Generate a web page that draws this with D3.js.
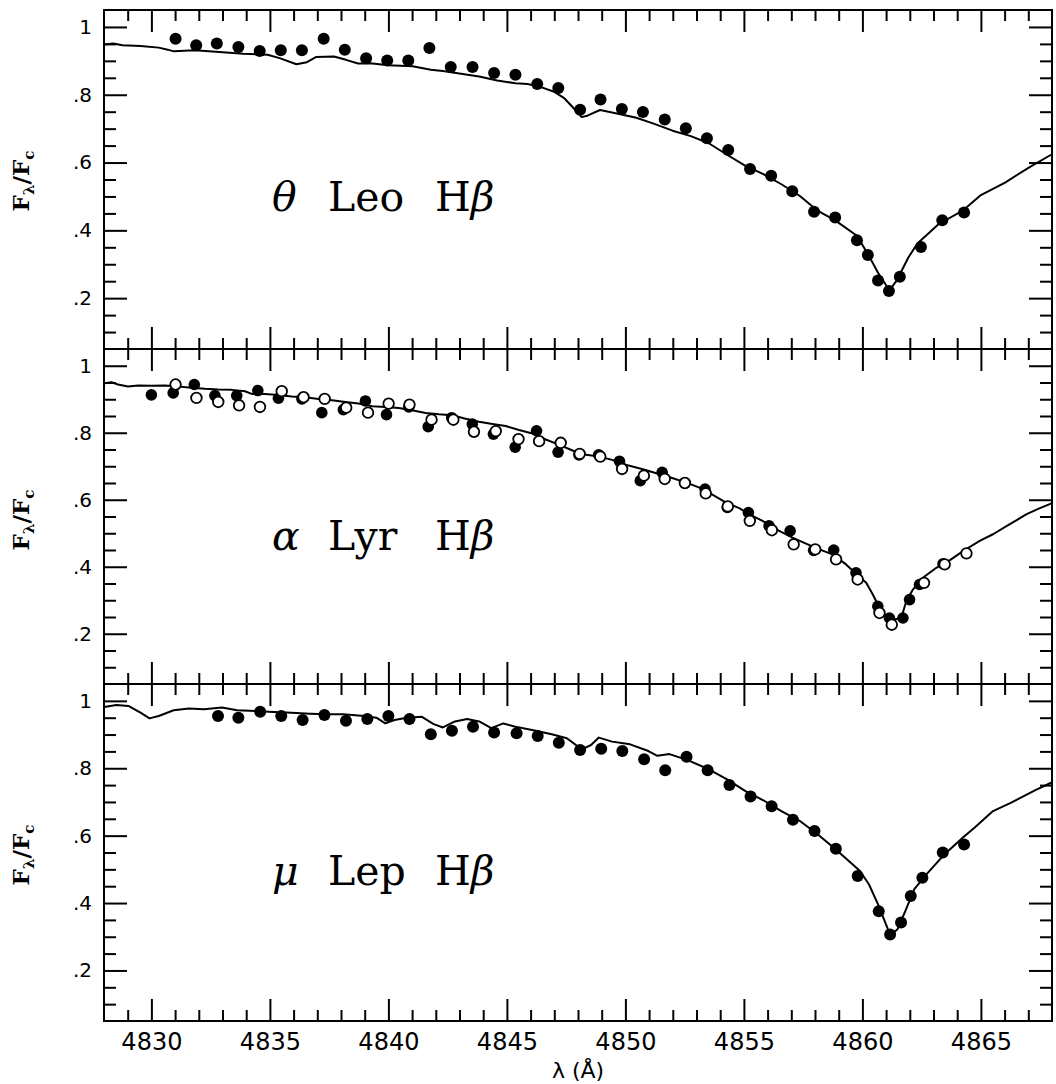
<!DOCTYPE html>
<html>
<head>
<meta charset="utf-8">
<script src="https://cdn.jsdelivr.net/npm/d3@7"></script>
<style>
  body { margin: 0; background: #fff; }
</style>
</head>
<body>
<svg id="chart" width="1056" height="1084"></svg>
<script>

// theta Leo : observed points and model curve [wavelength, F/Fc]
const leoObs = [
  [4831.02,0.965],[4831.89,0.946],[4832.76,0.951],[4833.67,0.941],[4834.57,0.929],
  [4835.46,0.931],[4836.35,0.931],[4837.27,0.965],[4838.16,0.933],[4839.06,0.908],
  [4839.95,0.901],[4840.84,0.901],[4841.73,0.938],[4842.63,0.882],[4843.55,0.882],
  [4844.46,0.864],[4845.36,0.859],[4846.28,0.832],[4847.17,0.820],[4848.09,0.756],
  [4848.95,0.786],[4849.85,0.758],[4850.74,0.749],[4851.66,0.727],[4852.55,0.701],
  [4853.44,0.672],[4854.34,0.637],[4855.26,0.581],[4856.15,0.561],[4857.04,0.515],
  [4857.96,0.455],[4858.85,0.438],[4859.77,0.371],[4860.23,0.327],[4860.66,0.252],
  [4861.12,0.221],[4861.58,0.263],[4862.47,0.351],[4863.37,0.430],[4864.29,0.453]
];
const leoModel = [
  [4828.01,0.948],[4828.39,0.951],[4828.78,0.946],[4829.54,0.944],[4830.31,0.939],
  [4830.69,0.933],[4830.94,0.928],[4831.84,0.931],[4832.86,0.926],[4833.88,0.921],
  [4834.90,0.918],[4835.41,0.908],[4836.12,0.890],[4836.56,0.896],[4836.94,0.911],
  [4837.70,0.913],[4838.21,0.903],[4838.72,0.892],[4839.23,0.893],[4840.00,0.887],
  [4841.02,0.884],[4841.79,0.874],[4842.30,0.870],[4843.06,0.862],[4843.83,0.854],
  [4844.59,0.842],[4845.36,0.834],[4845.87,0.832],[4846.38,0.824],[4847.02,0.808],
  [4847.40,0.791],[4847.78,0.763],[4848.16,0.734],[4848.42,0.739],[4848.93,0.755],
  [4849.69,0.744],[4850.46,0.732],[4851.22,0.714],[4851.99,0.694],[4852.76,0.678],
  [4853.52,0.657],[4854.29,0.623],[4855.05,0.591],[4855.82,0.566],[4856.58,0.536],
  [4857.35,0.502],[4858.11,0.458],[4858.88,0.428],[4859.77,0.384],[4860.28,0.324],
  [4860.66,0.275],[4861.05,0.233],[4861.17,0.226],[4861.43,0.250],[4861.94,0.320],
  [4862.32,0.361],[4863.21,0.418],[4864.23,0.458],[4865.00,0.504],[4866.02,0.541],
  [4867.04,0.586],[4867.96,0.623]
];

// alpha Lyr : two sets of observations and model
const lyrFilled = [
  [4830.00,0.913],[4830.92,0.919],[4831.81,0.944],[4832.68,0.911],[4833.60,0.911],
  [4834.49,0.926],[4835.36,0.903],[4836.35,0.901],[4837.19,0.860],[4838.10,0.869],
  [4839.03,0.895],[4839.92,0.854],[4840.86,0.877],[4841.68,0.818],[4842.67,0.845],
  [4843.54,0.826],[4844.43,0.796],[4845.35,0.757],[4846.25,0.806],[4847.16,0.742],
  [4848.04,0.734],[4848.87,0.734],[4849.75,0.715],[4850.63,0.657],[4851.55,0.682],
  [4852.51,0.650],[4853.36,0.632],[4854.30,0.577],[4855.19,0.562],[4856.06,0.522],
  [4856.95,0.507],[4857.94,0.449],[4858.79,0.450],[4859.73,0.382],[4860.65,0.282],
  [4861.14,0.247],[4861.71,0.247],[4861.99,0.302],[4862.41,0.347],[4863.40,0.409]
];
const lyrOpen = [
  [4831.02,0.944],[4831.90,0.904],[4832.82,0.892],[4833.70,0.882],[4834.58,0.877],
  [4835.50,0.924],[4836.42,0.906],[4837.31,0.901],[4838.22,0.875],[4839.14,0.860],
  [4840.01,0.887],[4840.89,0.884],[4841.82,0.839],[4842.74,0.839],[4843.61,0.803],
  [4844.53,0.805],[4845.49,0.781],[4846.36,0.775],[4847.27,0.770],[4848.07,0.737],
  [4848.94,0.729],[4849.86,0.692],[4850.78,0.672],[4851.66,0.662],[4852.51,0.650],
  [4853.39,0.619],[4854.32,0.580],[4855.25,0.537],[4856.18,0.509],[4857.10,0.467],
  [4858.01,0.452],[4858.89,0.422],[4859.80,0.362],[4860.72,0.262],[4861.24,0.227],
  [4862.60,0.352],[4863.47,0.407],[4864.39,0.440]
];
const lyrModel = [
  [4828.03,0.948],[4828.31,0.951],[4828.59,0.944],[4829.01,0.938],[4829.44,0.941],
  [4830.00,0.940],[4830.56,0.941],[4831.13,0.938],[4831.69,0.934],[4832.26,0.931],
  [4832.82,0.929],[4833.39,0.928],[4833.95,0.924],[4834.23,0.916],[4834.80,0.916],
  [4835.36,0.913],[4835.92,0.908],[4836.49,0.906],[4837.05,0.901],[4837.62,0.897],
  [4838.18,0.892],[4838.74,0.887],[4839.31,0.879],[4839.87,0.877],[4840.44,0.874],
  [4841.00,0.867],[4841.57,0.859],[4842.13,0.855],[4842.69,0.852],[4843.26,0.842],
  [4843.82,0.833],[4844.39,0.826],[4844.95,0.820],[4845.51,0.808],[4846.08,0.798],
  [4846.64,0.780],[4847.21,0.764],[4847.77,0.747],[4848.34,0.734],[4848.87,0.729],
  [4849.44,0.719],[4850.14,0.702],[4850.85,0.689],[4851.41,0.677],[4851.97,0.665],
  [4852.54,0.652],[4853.10,0.637],[4853.67,0.615],[4854.23,0.592],[4854.80,0.575],
  [4855.36,0.552],[4855.92,0.532],[4856.49,0.507],[4857.05,0.487],[4857.62,0.469],
  [4858.18,0.452],[4858.74,0.437],[4859.31,0.407],[4859.73,0.379],[4860.16,0.352],
  [4860.44,0.317],[4860.72,0.277],[4861.00,0.252],[4861.28,0.242],[4861.64,0.247],
  [4861.85,0.297],[4862.13,0.332],[4862.55,0.367],[4863.12,0.397],[4863.68,0.419],
  [4864.25,0.447],[4864.95,0.477],[4865.51,0.497],[4866.22,0.527],[4866.93,0.557],
  [4867.49,0.575],[4867.98,0.589]
];

// mu Lep
const lepObs = [
  [4832.81,0.955],[4833.67,0.950],[4834.59,0.968],[4835.48,0.955],[4836.38,0.943],
  [4837.30,0.958],[4838.21,0.941],[4839.11,0.946],[4840.00,0.955],[4840.89,0.946],
  [4841.79,0.901],[4842.68,0.911],[4843.57,0.923],[4844.46,0.906],[4845.41,0.904],
  [4846.30,0.896],[4847.19,0.876],[4848.09,0.854],[4848.98,0.858],[4849.87,0.851],
  [4850.79,0.827],[4851.68,0.794],[4852.58,0.834],[4853.47,0.794],[4854.39,0.750],
  [4855.28,0.716],[4856.17,0.687],[4857.07,0.647],[4857.98,0.614],[4858.88,0.561],
  [4859.80,0.480],[4860.69,0.376],[4861.17,0.307],[4861.63,0.342],[4862.04,0.421],
  [4862.53,0.475],[4863.39,0.550],[4864.29,0.574]
];
const lepModel = [
  [4828.01,0.982],[4828.52,0.988],[4829.03,0.985],[4829.54,0.965],[4829.92,0.948],
  [4830.31,0.955],[4830.94,0.972],[4831.58,0.977],[4832.22,0.975],[4832.98,0.980],
  [4833.62,0.972],[4834.39,0.970],[4835.15,0.967],[4835.92,0.965],[4836.68,0.962],
  [4837.45,0.960],[4838.09,0.960],[4838.98,0.955],[4839.49,0.950],[4839.87,0.933],
  [4840.26,0.943],[4840.77,0.950],[4841.40,0.953],[4841.91,0.931],[4842.30,0.921],
  [4842.81,0.939],[4843.32,0.946],[4843.83,0.939],[4844.34,0.919],[4844.85,0.933],
  [4845.36,0.923],[4846.12,0.913],[4846.89,0.901],[4847.53,0.889],[4848.16,0.856],
  [4848.55,0.869],[4848.88,0.891],[4849.44,0.879],[4850.20,0.871],[4850.97,0.851],
  [4851.35,0.837],[4851.86,0.842],[4852.63,0.824],[4853.52,0.797],[4854.29,0.767],
  [4855.05,0.733],[4855.82,0.705],[4856.58,0.673],[4857.35,0.644],[4858.11,0.604],
  [4858.88,0.559],[4859.90,0.495],[4860.28,0.455],[4860.66,0.396],[4861.05,0.327],
  [4861.17,0.302],[4861.48,0.322],[4861.81,0.376],[4862.19,0.441],[4862.70,0.485],
  [4863.47,0.545],[4864.23,0.594],[4864.74,0.624],[4865.51,0.673],[4866.28,0.698],
  [4867.30,0.735],[4867.96,0.757]
];

const xMajor = [4830, 4835, 4840, 4845, 4850, 4855, 4860, 4865];
const yMajor = [0.2, 0.4, 0.6, 0.8, 1.0];
const xDomain = [4828, 4868], yDomain = [0.05, 1.05];

const svg = d3.select('#chart');
const left = 104, right = 1052;

const panels = [
  {top: 10,  bottom: 349,  filled: leoObs,    open: null,    model: leoModel, star: 'θ', name: 'Leo', r: 6},
  {top: 349, bottom: 684,  filled: lyrFilled, open: lyrOpen, model: lyrModel, star: 'α', name: 'Lyr', r: 5.8},
  {top: 684, bottom: 1021, filled: lepObs,    open: null,    model: lepModel, star: 'μ', name: 'Lep', r: 6}
];

const x = d3.scaleLinear().domain(xDomain).range([left, right]);
const xMinor = d3.range(4829, 4868, 1).filter(d => d % 5 !== 0);
const yMinor = d3.range(0.10, 1.04, 0.05).map(d => +d.toFixed(2))
  .filter(d => !yMajor.some(m => Math.abs(m - d) < 1e-6));

const yFmt = d => d === 1 ? '1' : d3.format('.1f')(d).replace(/^0/, '');

function styleAxis(g) {
  g.select('.domain').remove();
  g.selectAll('.tick line').attr('stroke', '#000').attr('stroke-width', 2);
  g.selectAll('.tick text').attr('fill', '#000');
}

panels.forEach((p, i) => {
  const y = d3.scaleLinear().domain(yDomain).range([p.bottom, p.top]);
  const isLast = i === panels.length - 1;

  // ticks on all four sides, pointing in
  [[d3.axisLeft, left], [d3.axisRight, right]].forEach(([ax, pos], k) => {
    svg.append('g').attr('transform', 'translate(' + pos + ',0)')
      .call(ax(y).tickValues(yMinor).tickSize(-12).tickFormat(''))
      .call(styleAxis);
    const g = svg.append('g').attr('transform', 'translate(' + pos + ',0)')
      .call(ax(y).tickValues(yMajor).tickSize(-23).tickPadding(12)
        .tickFormat(k === 0 ? yFmt : ''))
      .call(styleAxis);
    g.selectAll('.tick text')
      .attr('font-family', 'DejaVu Sans')
      .attr('font-size', 20);
  });

  [[d3.axisTop, p.top], [d3.axisBottom, p.bottom]].forEach(([ax, pos], k) => {
    svg.append('g').attr('transform', 'translate(0,' + pos + ')')
      .call(ax(x).tickValues(xMinor).tickSize(-11).tickFormat(''))
      .call(styleAxis);
    const g = svg.append('g').attr('transform', 'translate(0,' + pos + ')')
      .call(ax(x).tickValues(xMajor).tickSize(-22).tickPadding(12)
        .tickFormat(k === 1 && isLast ? d3.format('d') : ''))
      .call(styleAxis);
    g.selectAll('.tick text')
      .attr('font-family', 'DejaVu Sans')
      .attr('font-size', 24);
  });

  // frame
  svg.append('rect')
    .attr('x', left).attr('y', p.top)
    .attr('width', right - left).attr('height', p.bottom - p.top)
    .attr('fill', 'none').attr('stroke', '#000').attr('stroke-width', 2);

  // model spectrum
  const line = d3.line().x(d => x(d[0])).y(d => y(d[1]));
  svg.append('path')
    .datum(p.model)
    .attr('d', line)
    .attr('fill', 'none')
    .attr('stroke', '#000')
    .attr('stroke-width', 2)
    .attr('stroke-linejoin', 'round');

  // observed points
  svg.append('g').selectAll('circle')
    .data(p.filled)
    .enter().append('circle')
      .attr('cx', d => x(d[0]))
      .attr('cy', d => y(d[1]))
      .attr('r', p.r)
      .attr('fill', '#000');

  if (p.open) {
    svg.append('g').selectAll('circle')
      .data(p.open)
      .enter().append('circle')
        .attr('cx', d => x(d[0]))
        .attr('cy', d => y(d[1]))
        .attr('r', 5.3)
        .attr('fill', '#fff')
        .attr('stroke', '#000')
        .attr('stroke-width', 1.8);
  }

  // star label
  const lab = svg.append('text')
    .attr('y', p.top + 201)
    .attr('font-family', 'DejaVu Serif')
    .attr('font-size', 41)
    .attr('fill', '#000');
  lab.append('tspan').attr('x', 272).attr('font-style', 'italic').text(p.star);
  lab.append('tspan').attr('x', 328).text(p.name);
  lab.append('tspan').attr('x', 435).text('H');
  lab.append('tspan').attr('font-style', 'italic').text('β');

  // y axis title
  const yt = svg.append('text')
    .attr('transform', 'translate(29,' + (p.top + 171) + ') rotate(-90)')
    .attr('text-anchor', 'middle')
    .attr('font-family', 'DejaVu Serif')
    .attr('font-weight', 'bold')
    .attr('font-size', 23)
    .attr('fill', '#000');
  yt.append('tspan').text('F');
  yt.append('tspan').attr('font-size', 15).attr('dy', 5).text('λ');
  yt.append('tspan').attr('dy', -5).text('/F');
  yt.append('tspan').attr('font-size', 15).attr('dy', 5).text('c');
});

// x axis title
svg.append('text')
  .attr('x', (left + right) / 2)
  .attr('y', 1078)
  .attr('text-anchor', 'middle')
  .attr('font-family', 'DejaVu Sans')
  .attr('font-size', 22)
  .attr('fill', '#000')
  .text('λ (Å)');

</script>
</body>
</html>
